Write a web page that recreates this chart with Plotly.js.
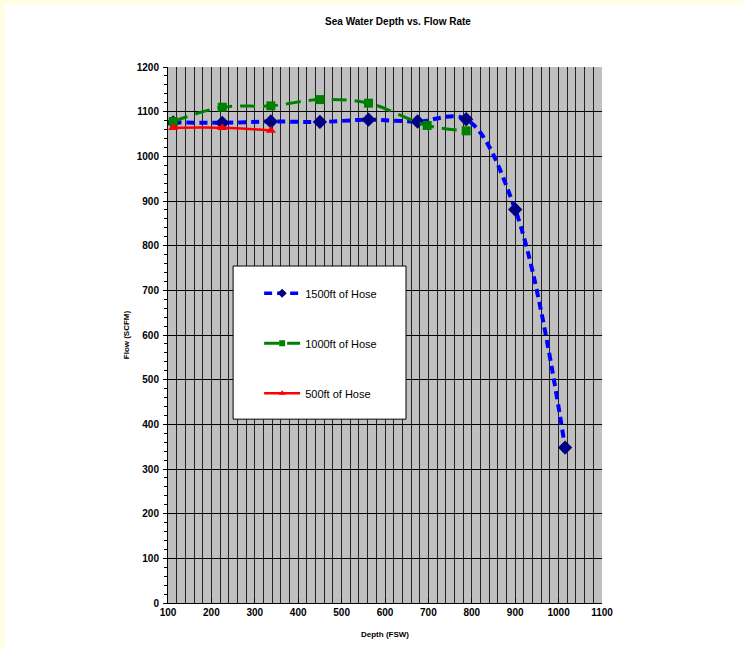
<!DOCTYPE html>
<html><head><meta charset="utf-8">
<script src="https://cdn.plot.ly/plotly-3.0.1.min.js"></script>
<style>
html,body{margin:0;padding:0;background:#fffde3;width:743px;height:649px;overflow:hidden}
#chart{position:absolute;left:5px;top:5px;width:738px;height:644px;background:#fff}
</style></head><body>
<div id="chart"></div>
<script>
// Data
const depth1500 = [112, 225, 337, 450, 562, 675, 787, 900, 1015];
const flow1500  = [1076, 1075, 1078, 1077, 1082, 1078, 1083, 881, 348];
const depth1000 = [112, 225, 337, 450, 562, 697, 787];
const flow1000  = [1078, 1110, 1113, 1127, 1119, 1069, 1057];
const depth500  = [112, 225, 337];
const flow500   = [1064, 1064, 1058];
const seriesNames = ["1500ft of Hose", "1000ft of Hose", "500ft of Hose"];

const F = "Liberation Sans, Arial, sans-serif";
const styles = [
  {line: {color: "#0000ff", width: 4, dash: "8px,5px", shape: "spline", smoothing: 1},
   marker: {symbol: "diamond", size: 11, color: "#000080"}, lm: 7},
  {line: {color: "#008000", width: 3, dash: "15px,8px", shape: "spline", smoothing: 1},
   marker: {symbol: "square", size: 9, color: "#008000"}, lm: 6},
  {line: {color: "#ff0000", width: 2.5, shape: "spline", smoothing: 1},
   marker: {symbol: "triangle-up", size: 9, color: "#ff0000"}, lm: 6}
];
const xs = [depth1500, depth1000, depth500];
const ys = [flow1500, flow1000, flow500];
const groups = ["a", "b", "c"];

const traces = [];
for (let i = 0; i < 3; i++) {
  traces.push({x: xs[i], y: ys[i], name: seriesNames[i], mode: "lines+markers", showlegend: false,
               line: styles[i].line, marker: styles[i].marker});
}
// legend entries (no marks drawn; smaller symbols as in the reference legend)
for (let i = 0; i < 3; i++) {
  traces.push({x: [null], y: [null], name: seriesNames[i], mode: "lines+markers", legendgroup: groups[i],
               line: Object.assign({}, styles[i].line, {width: Math.min(styles[i].line.width, 3.5)}),
               marker: Object.assign({}, styles[i].marker, {size: styles[i].lm})});
}

const layout = {
  width: 738, height: 644,
  margin: {l: 163, r: 141, t: 62, b: 46},
  paper_bgcolor: "#ffffff",
  plot_bgcolor: "#c0c0c0",
  font: {family: F, color: "#000"},
  title: {text: "<b>Sea Water Depth vs. Flow Rate</b>", font: {size: 10, family: F},
          x: 0.5325, xref: "container", xanchor: "center", y: 0.975, yref: "container", yanchor: "middle"},
  showlegend: true,
  legend: {x: 0.21, y: 0.605, xanchor: "left", yanchor: "top", bgcolor: "rgba(0,0,0,0)",
           borderwidth: 0, font: {size: 11, family: F}, tracegroupgap: 31, itemwidth: 36},
  shapes: [{type: "rect", xref: "paper", yref: "paper", x0: 0.15, x1: 0.5484, y0: 0.343, y1: 0.6287,
            fillcolor: "#ffffff", line: {color: "#000", width: 1}, layer: "above"}],
  xaxis: {
    range: [100, 1100], dtick: 100, tick0: 100, showgrid: true, gridcolor: "#222", gridwidth: 1,
    minor: {dtick: 20, showgrid: true, gridcolor: "#222", gridwidth: 1},
    ticks: "inside", ticklen: 4, tickcolor: "#000", showline: true, linecolor: "#000", linewidth: 1,
    zeroline: false, tickfont: {size: 10, family: F, weight: "bold"},
    title: {text: "<b>Depth (FSW)</b>", font: {size: 8, family: F}, standoff: 14}
  },
  yaxis: {
    range: [0, 1200], dtick: 100, showgrid: true, gridcolor: "#000", gridwidth: 1,
    minor: {dtick: 20, ticks: "outside", ticklen: 3, tickcolor: "#000", showgrid: false},
    ticks: "outside", ticklen: 4, tickcolor: "#000", showline: true, linecolor: "#000", linewidth: 1,
    zeroline: false, tickfont: {size: 10, family: F, weight: "bold"}, ticklabelstandoff: 2,
    title: {text: "<b>Flow (SCFM)</b>", font: {size: 8, family: F}, standoff: 5}
  }
};

Plotly.newPlot("chart", traces, layout, {displayModeBar: false, staticPlot: true});
</script>
</body></html>
